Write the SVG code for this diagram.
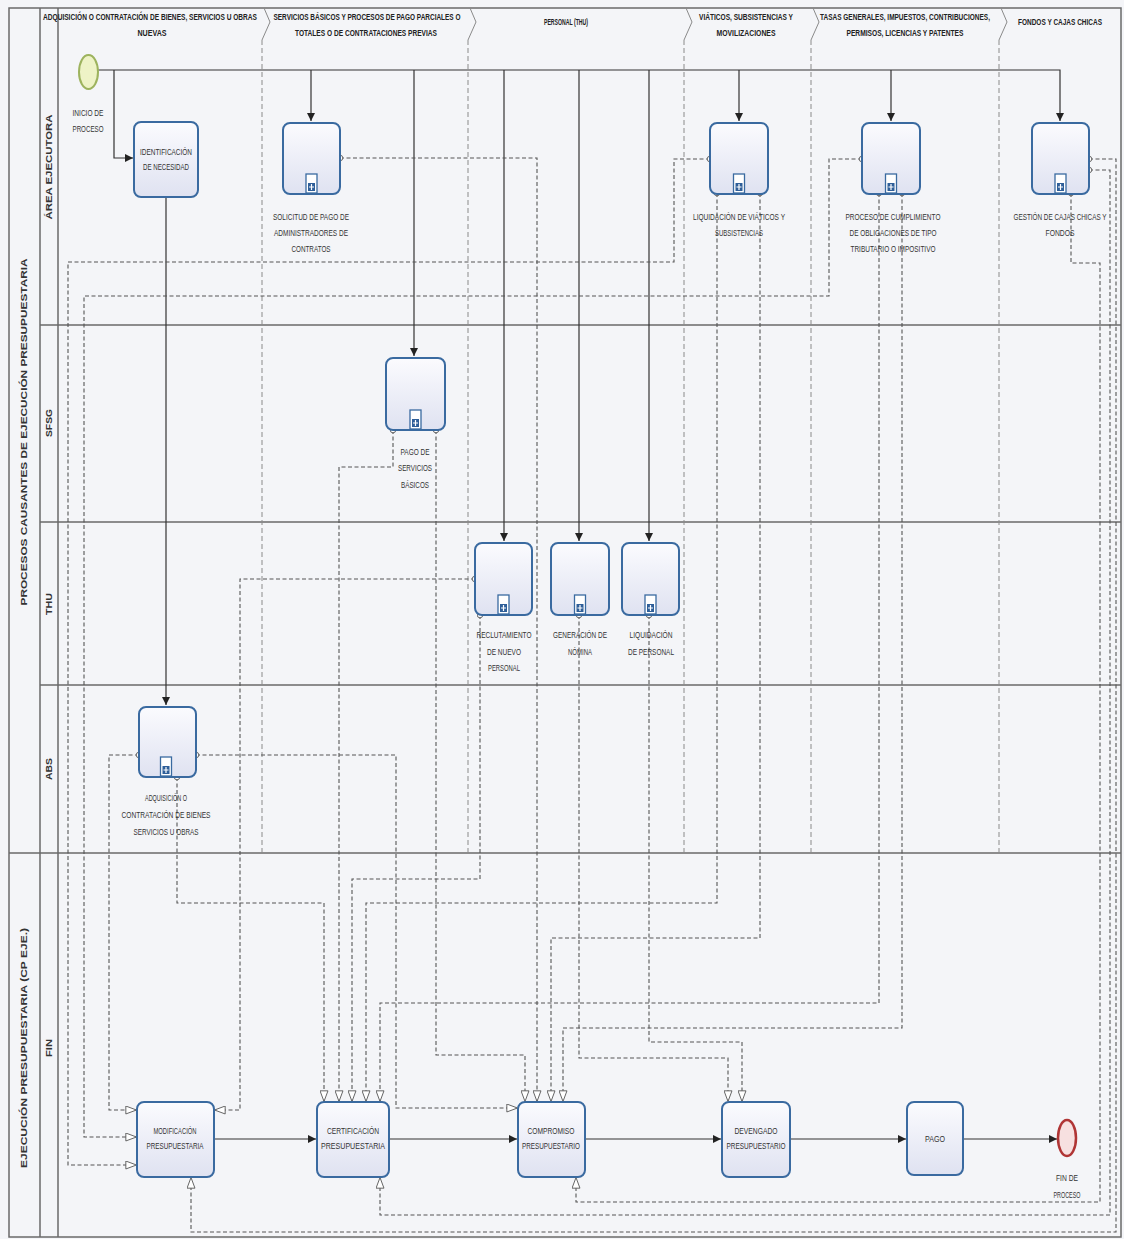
<svg xmlns="http://www.w3.org/2000/svg" width="1124" height="1239" viewBox="0 0 1124 1239">
<defs>
<style>
.t{font-family:"Liberation Sans",Arial,sans-serif;font-size:8.5px;fill:#333;text-anchor:middle}
.h{font-size:8.5px;font-weight:bold;fill:#222}
.ln{font-family:"Liberation Sans",Arial,sans-serif;font-size:8.5px;font-weight:bold;fill:#333;text-anchor:middle}
.mf{fill:none;stroke:#555;stroke-width:1.1;stroke-dasharray:4 2.5}
.sf{fill:none;stroke:#333;stroke-width:1.2}
.task{fill:url(#g);stroke:#3a6aa0;stroke-width:2}
.lane{stroke:#6a6a6a;stroke-width:1.5;fill:none}
.sep{fill:none;stroke:#8a8a8a;stroke-width:1;stroke-dasharray:5 3}
.sepc{fill:none;stroke:#8a8a8a;stroke-width:1}
</style>
<linearGradient id="g" x1="0" y1="0" x2="0" y2="1">
<stop offset="0" stop-color="#fbfbfe"/>
<stop offset="1" stop-color="#dfe2f1"/>
</linearGradient>
<marker id="a" viewBox="0 0 10 10" refX="10" refY="5" markerWidth="8" markerHeight="8" markerUnits="userSpaceOnUse" orient="auto">
<path d="M0,0 L10,5 L0,10 z" fill="#222"/>
</marker>
<marker id="m" viewBox="0 0 13 10" refX="13" refY="5" markerWidth="13" markerHeight="9" markerUnits="userSpaceOnUse" orient="auto">
<path d="M0.6,0.6 L12.4,5 L0.6,9.4 z" fill="#fff" stroke="#555" stroke-width="1"/>
</marker>
<marker id="o" viewBox="0 0 8 8" refX="4" refY="4" markerWidth="7" markerHeight="7" markerUnits="userSpaceOnUse">
<circle cx="4" cy="4" r="3.2" fill="#fff" stroke="#555" stroke-width="1"/>
</marker>
<g id="sub">
<rect x="-5.5" y="-20" width="11" height="19" fill="#fff" stroke="#3a6aa0" stroke-width="1.3"/>
<rect x="-3.5" y="-11" width="7" height="8" fill="#2f5f99"/>
<path d="M0,-10 V-4 M-2.5,-7 H2.5" stroke="#fff" stroke-width="1.2"/>
</g>
</defs>

<rect x="0" y="0" width="1124" height="1239" fill="#f4f5f8"/>

<!-- pools and lanes -->
<g id="pools">
<rect x="9" y="8" width="1112" height="1229" class="lane"/>
<path class="lane" d="M40,8 V1237 M58,8 V1237 M9,853 H1121 M40,325 H1121 M40,522 H1121 M40,685 H1121"/>
<text class="ln" transform="translate(27,432) rotate(-90)" textLength="347" lengthAdjust="spacingAndGlyphs">PROCESOS CAUSANTES DE EJECUCIÓN PRESUPUESTARIA</text>
<text class="ln" transform="translate(27,1048) rotate(-90)" textLength="240" lengthAdjust="spacingAndGlyphs">EJECUCIÓN PRESUPUESTARIA (CP EJE.)</text>
<text class="ln" transform="translate(52,167) rotate(-90)" textLength="105" lengthAdjust="spacingAndGlyphs">ÁREA EJECUTORA</text>
<text class="ln" transform="translate(52,423) rotate(-90)" textLength="28" lengthAdjust="spacingAndGlyphs">SFSG</text>
<text class="ln" transform="translate(52,604) rotate(-90)" textLength="22" lengthAdjust="spacingAndGlyphs">THU</text>
<text class="ln" transform="translate(52,769) rotate(-90)" textLength="22" lengthAdjust="spacingAndGlyphs">ABS</text>
<text class="ln" transform="translate(52,1048) rotate(-90)" textLength="18" lengthAdjust="spacingAndGlyphs">FIN</text>
</g>

<!-- column separators and headers -->
<g id="columns">
<path class="sepc" d="M264,8 L270,22 L262,40 M470,8 L476,22 L468,40 M686,8 L692,22 L684,40 M813,8 L819,22 L811,40 M1001,8 L1007,22 L999,40"/>
<path class="sep" d="M262,40 V853 M468,40 V853 M684,40 V853 M811,40 V853 M999,40 V853"/>
<text class="t h" x="150" y="20" textLength="214" lengthAdjust="spacingAndGlyphs">ADQUISICIÓN O CONTRATACIÓN DE BIENES, SERVICIOS U OBRAS</text>
<text class="t h" x="152" y="36" textLength="29" lengthAdjust="spacingAndGlyphs">NUEVAS</text>
<text class="t h" x="367" y="20" textLength="187" lengthAdjust="spacingAndGlyphs">SERVICIOS BÁSICOS Y PROCESOS DE PAGO PARCIALES O</text>
<text class="t h" x="366" y="36" textLength="142" lengthAdjust="spacingAndGlyphs">TOTALES O DE CONTRATACIONES PREVIAS</text>
<text class="t h" x="566" y="25" textLength="44" lengthAdjust="spacingAndGlyphs">PERSONAL (THU)</text>
<text class="t h" x="746" y="20" textLength="94" lengthAdjust="spacingAndGlyphs">VIÁTICOS, SUBSISTENCIAS Y</text>
<text class="t h" x="746" y="36" textLength="59" lengthAdjust="spacingAndGlyphs">MOVILIZACIONES</text>
<text class="t h" x="905" y="20" textLength="170" lengthAdjust="spacingAndGlyphs">TASAS GENERALES, IMPUESTOS, CONTRIBUCIONES,</text>
<text class="t h" x="905" y="36" textLength="117" lengthAdjust="spacingAndGlyphs">PERMISOS, LICENCIAS Y PATENTES</text>
<text class="t h" x="1060" y="25" textLength="84" lengthAdjust="spacingAndGlyphs">FONDOS Y CAJAS CHICAS</text>
</g>

<!-- connectors -->
<g id="connectors">
<!-- sequence flows -->
<path class="sf" d="M98,70 H1060 V121" marker-end="url(#a)"/>
<path class="sf" d="M114,70 V158 H133" marker-end="url(#a)"/>
<path class="sf" d="M311,70 V121" marker-end="url(#a)"/>
<path class="sf" d="M414,70 V356" marker-end="url(#a)"/>
<path class="sf" d="M504,70 V541" marker-end="url(#a)"/>
<path class="sf" d="M579,70 V541" marker-end="url(#a)"/>
<path class="sf" d="M649,70 V541" marker-end="url(#a)"/>
<path class="sf" d="M739,70 V121" marker-end="url(#a)"/>
<path class="sf" d="M891,70 V121" marker-end="url(#a)"/>
<path class="sf" d="M166,197 V705" marker-end="url(#a)"/>
<path class="sf" d="M214,1139 H316" marker-end="url(#a)"/>
<path class="sf" d="M389,1139 H517" marker-end="url(#a)"/>
<path class="sf" d="M585,1139 H721" marker-end="url(#a)"/>
<path class="sf" d="M790,1139 H906" marker-end="url(#a)"/>
<path class="sf" d="M963,1139 H1057" marker-end="url(#a)"/>
<!-- message flows -->
<path class="mf" d="M710,159 H674 V262 H68 V1165 H137" marker-start="url(#o)" marker-end="url(#m)"/>
<path class="mf" d="M862,159 H829 V296 H84 V1137 H137" marker-start="url(#o)" marker-end="url(#m)"/>
<path class="mf" d="M139,755 H109 V1110 H137" marker-start="url(#o)" marker-end="url(#m)"/>
<path class="mf" d="M475,579 H240 V1110 H214" marker-start="url(#o)" marker-end="url(#m)"/>
<path class="mf" d="M1089,159 H1116 V1232 H191 V1177" marker-start="url(#o)" marker-end="url(#m)"/>
<path class="mf" d="M177,777 V903 H324 V1102" marker-start="url(#o)" marker-end="url(#m)"/>
<path class="mf" d="M393,430 V467 H339 V1102" marker-start="url(#o)" marker-end="url(#m)"/>
<path class="mf" d="M480,615 V879 H352 V1102" marker-start="url(#o)" marker-end="url(#m)"/>
<path class="mf" d="M717,193 V903 H366 V1102" marker-start="url(#o)" marker-end="url(#m)"/>
<path class="mf" d="M879,193 V1003 H380 V1102" marker-start="url(#o)" marker-end="url(#m)"/>
<path class="mf" d="M1089,170 H1110 V1215 H380 V1177" marker-start="url(#o)" marker-end="url(#m)"/>
<path class="mf" d="M436,430 V1055 H525 V1102" marker-start="url(#o)" marker-end="url(#m)"/>
<path class="mf" d="M340,158 H537 V1102" marker-start="url(#o)" marker-end="url(#m)"/>
<path class="mf" d="M760,193 V938 H551 V1102" marker-start="url(#o)" marker-end="url(#m)"/>
<path class="mf" d="M902,193 V1028 H563 V1102" marker-start="url(#o)" marker-end="url(#m)"/>
<path class="mf" d="M196,755 H396 V1108 H518" marker-start="url(#o)" marker-end="url(#m)"/>
<path class="mf" d="M1071,193 V263 H1100 V1202 H576 V1177" marker-start="url(#o)" marker-end="url(#m)"/>
<path class="mf" d="M579,615 V1058 H728 V1102" marker-start="url(#o)" marker-end="url(#m)"/>
<path class="mf" d="M649,615 V1042 H742 V1102" marker-start="url(#o)" marker-end="url(#m)"/>
</g>

<!-- nodes -->
<g id="inicio">
<ellipse cx="88.5" cy="72" rx="9.5" ry="17" fill="#eef3c6" stroke="#9db35e" stroke-width="2"/>
<text class="t" x="88" y="116" textLength="31" lengthAdjust="spacingAndGlyphs">INICIO DE</text>
<text class="t" x="88" y="132" textLength="31" lengthAdjust="spacingAndGlyphs">PROCESO</text>
</g>
<g id="identificacion">
<rect class="task" x="134" y="122" width="64" height="75" rx="7"/>
<text class="t" x="166" y="155" textLength="52" lengthAdjust="spacingAndGlyphs">IDENTIFICACIÓN</text>
<text class="t" x="166" y="170" textLength="46" lengthAdjust="spacingAndGlyphs">DE NECESIDAD</text>
</g>
<g id="solicitud">
<rect class="task" x="283" y="123" width="57" height="71" rx="7"/>
<use href="#sub" x="311.5" y="194"/>
<text class="t" x="311" y="220" textLength="76" lengthAdjust="spacingAndGlyphs">SOLICITUD DE PAGO DE</text>
<text class="t" x="311" y="236" textLength="74" lengthAdjust="spacingAndGlyphs">ADMINISTRADORES DE</text>
<text class="t" x="311" y="252" textLength="39" lengthAdjust="spacingAndGlyphs">CONTRATOS</text>
</g>
<g id="viaticos">
<rect class="task" x="710" y="123" width="58" height="71" rx="7"/>
<use href="#sub" x="739" y="194"/>
<text class="t" x="739" y="220" textLength="92" lengthAdjust="spacingAndGlyphs">LIQUIDACIÓN DE VIÁTICOS Y</text>
<text class="t" x="739" y="236" textLength="48" lengthAdjust="spacingAndGlyphs">SUBSISTENCIAS</text>
</g>
<g id="cumplimiento">
<rect class="task" x="862" y="123" width="58" height="71" rx="7"/>
<use href="#sub" x="891" y="194"/>
<text class="t" x="893" y="220" textLength="95" lengthAdjust="spacingAndGlyphs">PROCESO DE CUMPLIMIENTO</text>
<text class="t" x="893" y="236" textLength="87" lengthAdjust="spacingAndGlyphs">DE OBLIGACIONES DE TIPO</text>
<text class="t" x="893" y="252" textLength="85" lengthAdjust="spacingAndGlyphs">TRIBUTARIO O IMPOSITIVO</text>
</g>
<g id="gestion">
<rect class="task" x="1032" y="123" width="57" height="71" rx="7"/>
<use href="#sub" x="1060.5" y="194"/>
<text class="t" x="1060" y="220" textLength="93" lengthAdjust="spacingAndGlyphs">GESTIÓN DE CAJAS CHICAS Y</text>
<text class="t" x="1060" y="236" textLength="29" lengthAdjust="spacingAndGlyphs">FONDOS</text>
</g>
<g id="pago-servicios">
<rect class="task" x="386" y="358" width="59" height="72" rx="7"/>
<use href="#sub" x="415.5" y="430"/>
<text class="t" x="415" y="455" textLength="29" lengthAdjust="spacingAndGlyphs">PAGO DE</text>
<text class="t" x="415" y="471" textLength="34" lengthAdjust="spacingAndGlyphs">SERVICIOS</text>
<text class="t" x="415" y="488" textLength="28" lengthAdjust="spacingAndGlyphs">BÁSICOS</text>
</g>
<g id="reclutamiento">
<rect class="task" x="475" y="543" width="57" height="72" rx="7"/>
<use href="#sub" x="503.5" y="615"/>
<text class="t" x="504" y="638" textLength="55" lengthAdjust="spacingAndGlyphs">RECLUTAMIENTO</text>
<text class="t" x="504" y="655" textLength="34" lengthAdjust="spacingAndGlyphs">DE NUEVO</text>
<text class="t" x="504" y="671" textLength="32" lengthAdjust="spacingAndGlyphs">PERSONAL</text>
</g>
<g id="nomina">
<rect class="task" x="551" y="543" width="58" height="72" rx="7"/>
<use href="#sub" x="580" y="615"/>
<text class="t" x="580" y="638" textLength="54" lengthAdjust="spacingAndGlyphs">GENERACIÓN DE</text>
<text class="t" x="580" y="655" textLength="24" lengthAdjust="spacingAndGlyphs">NÓMINA</text>
</g>
<g id="liq-personal">
<rect class="task" x="622" y="543" width="57" height="72" rx="7"/>
<use href="#sub" x="650.5" y="615"/>
<text class="t" x="651" y="638" textLength="43" lengthAdjust="spacingAndGlyphs">LIQUIDACIÓN</text>
<text class="t" x="651" y="655" textLength="46" lengthAdjust="spacingAndGlyphs">DE PERSONAL</text>
</g>
<g id="adquisicion">
<rect class="task" x="139" y="707" width="57" height="70" rx="7"/>
<use href="#sub" x="166" y="777"/>
<text class="t" x="166" y="801" textLength="42" lengthAdjust="spacingAndGlyphs">ADQUISICIÓN O</text>
<text class="t" x="166" y="818" textLength="89" lengthAdjust="spacingAndGlyphs">CONTRATACIÓN DE BIENES</text>
<text class="t" x="166" y="835" textLength="65" lengthAdjust="spacingAndGlyphs">SERVICIOS U OBRAS</text>
</g>
<g id="modificacion">
<rect class="task" x="137" y="1102" width="77" height="75" rx="7"/>
<text class="t" x="175" y="1134" textLength="43" lengthAdjust="spacingAndGlyphs">MODIFICACIÓN</text>
<text class="t" x="175" y="1149" textLength="57" lengthAdjust="spacingAndGlyphs">PRESUPUESTARIA</text>
</g>
<g id="certificacion">
<rect class="task" x="317" y="1102" width="72" height="75" rx="7"/>
<text class="t" x="353" y="1134" textLength="52" lengthAdjust="spacingAndGlyphs">CERTIFICACIÓN</text>
<text class="t" x="353" y="1149" textLength="64" lengthAdjust="spacingAndGlyphs">PRESUPUESTARIA</text>
</g>
<g id="compromiso">
<rect class="task" x="518" y="1102" width="67" height="75" rx="7"/>
<text class="t" x="551" y="1134" textLength="47" lengthAdjust="spacingAndGlyphs">COMPROMISO</text>
<text class="t" x="551" y="1149" textLength="58" lengthAdjust="spacingAndGlyphs">PRESUPUESTARIO</text>
</g>
<g id="devengado">
<rect class="task" x="722" y="1102" width="68" height="75" rx="7"/>
<text class="t" x="756" y="1134" textLength="43" lengthAdjust="spacingAndGlyphs">DEVENGADO</text>
<text class="t" x="756" y="1149" textLength="59" lengthAdjust="spacingAndGlyphs">PRESUPUESTARIO</text>
</g>
<g id="pago">
<rect class="task" x="907" y="1102" width="56" height="73" rx="7"/>
<text class="t" x="935" y="1142" textLength="20" lengthAdjust="spacingAndGlyphs">PAGO</text>
</g>
<g id="fin">
<ellipse cx="1067" cy="1138" rx="9" ry="18" fill="#f7e0e0" stroke="#b03535" stroke-width="2.5"/>
<text class="t" x="1067" y="1181" textLength="22" lengthAdjust="spacingAndGlyphs">FIN DE</text>
<text class="t" x="1067" y="1198" textLength="27" lengthAdjust="spacingAndGlyphs">PROCESO</text>
</g>
</svg>
